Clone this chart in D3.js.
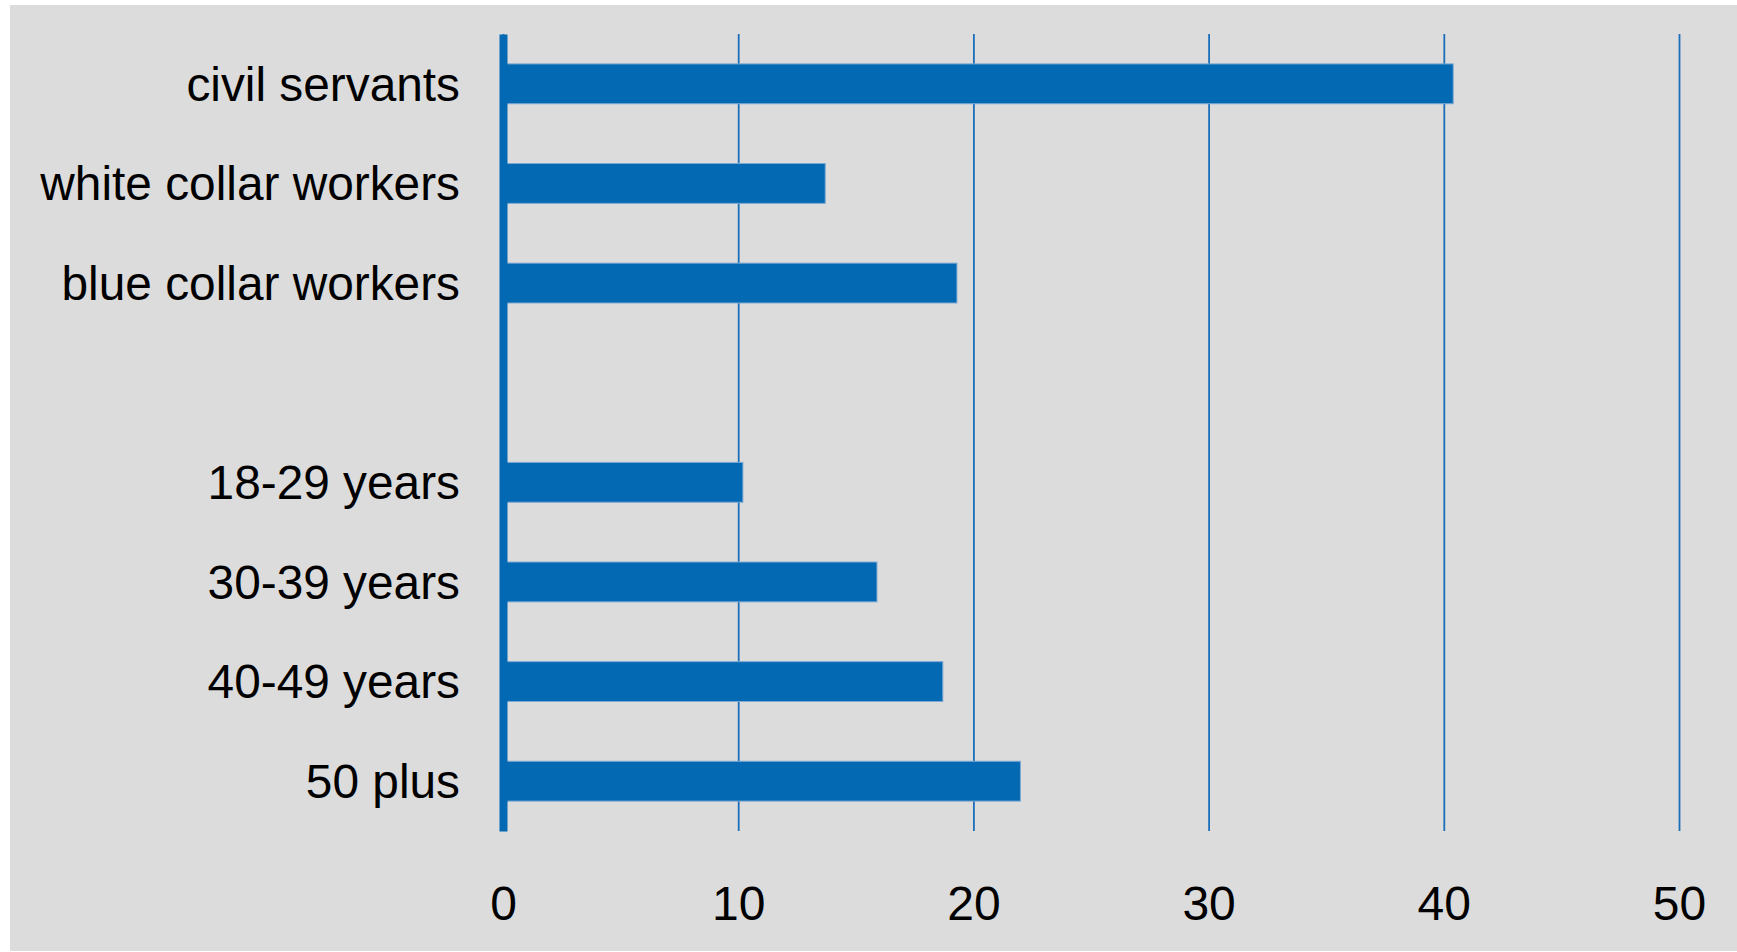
<!DOCTYPE html>
<html>
<head>
<meta charset="utf-8">
<script src="https://cdn.jsdelivr.net/npm/d3@7"></script>
<style>
  html, body { margin: 0; padding: 0; background: #ffffff; }
  svg { display: block; }
  text { font-family: "Liberation Sans", Arial, sans-serif; fill: #000; }
</style>
</head>
<body>
<svg id="chart" width="1737" height="952"></svg>
<script>
// ---- data ----
const categories = ["civil servants", "white collar workers", "blue collar workers", "gap",
                    "18-29 years", "30-39 years", "40-49 years", "50 plus"];
const values = [40.4, 13.7, 19.3, null, 10.2, 15.9, 18.7, 22.0];
const xTicks = [0, 10, 20, 30, 40, 50];

// ---- layout ----
const W = 1737, H = 952;
const svg = d3.select("#chart");
const blue = "#0369b3";

svg.append("rect").attr("x", 10).attr("y", 5).attr("width", W - 10).attr("height", H - 6)
  .attr("fill", "#dcdcdc");

const plotTop = 34, plotBottom = 831;
const x = d3.scaleLinear().domain([0, 50]).range([503, 1679]);
const y = d3.scaleBand().domain(categories).range([plotTop, plotBottom])
  .paddingInner(0.6).paddingOuter(0.3);

// gridlines + tick labels
const xAxis = d3.axisBottom(x).tickValues(xTicks).tickFormat(d3.format("d"))
  .tickSize(-(plotBottom - plotTop)).tickPadding(55);
const gx = svg.append("g").attr("transform", `translate(0,${plotBottom})`).call(xAxis);
gx.select(".domain").remove();
gx.selectAll(".tick line").attr("stroke", "#1b6fb9").attr("stroke-width", 1.8);
gx.selectAll(".tick text").attr("font-size", 48).attr("font-family", "'Liberation Sans', Arial, sans-serif")
  .attr("fill", "#000");

// bars
const data = categories.map((c, i) => ({ c, v: values[i] })).filter(d => d.v !== null);
svg.append("g").selectAll("rect").data(data).join("rect")
  .attr("x", x(0))
  .attr("y", d => y(d.c))
  .attr("width", d => x(d.v) - x(0))
  .attr("height", y.bandwidth())
  .attr("fill", blue)
  .attr("stroke", "#7ea9d4")
  .attr("stroke-width", 1);

// y axis
const yAxis = d3.axisLeft(y).tickValues(categories.filter(c => c !== "gap"))
  .tickSize(0).tickSizeOuter(0).tickPadding(43);
const gy = svg.append("g").attr("transform", `translate(${x(0)},0)`).call(yAxis);
gy.select(".domain").attr("stroke", blue).attr("stroke-width", 8);
gy.selectAll(".tick text").attr("font-size", 47.8).attr("font-family", "'Liberation Sans', Arial, sans-serif")
  .attr("fill", "#000").attr("dy", "0.35em");
</script>
</body>
</html>
